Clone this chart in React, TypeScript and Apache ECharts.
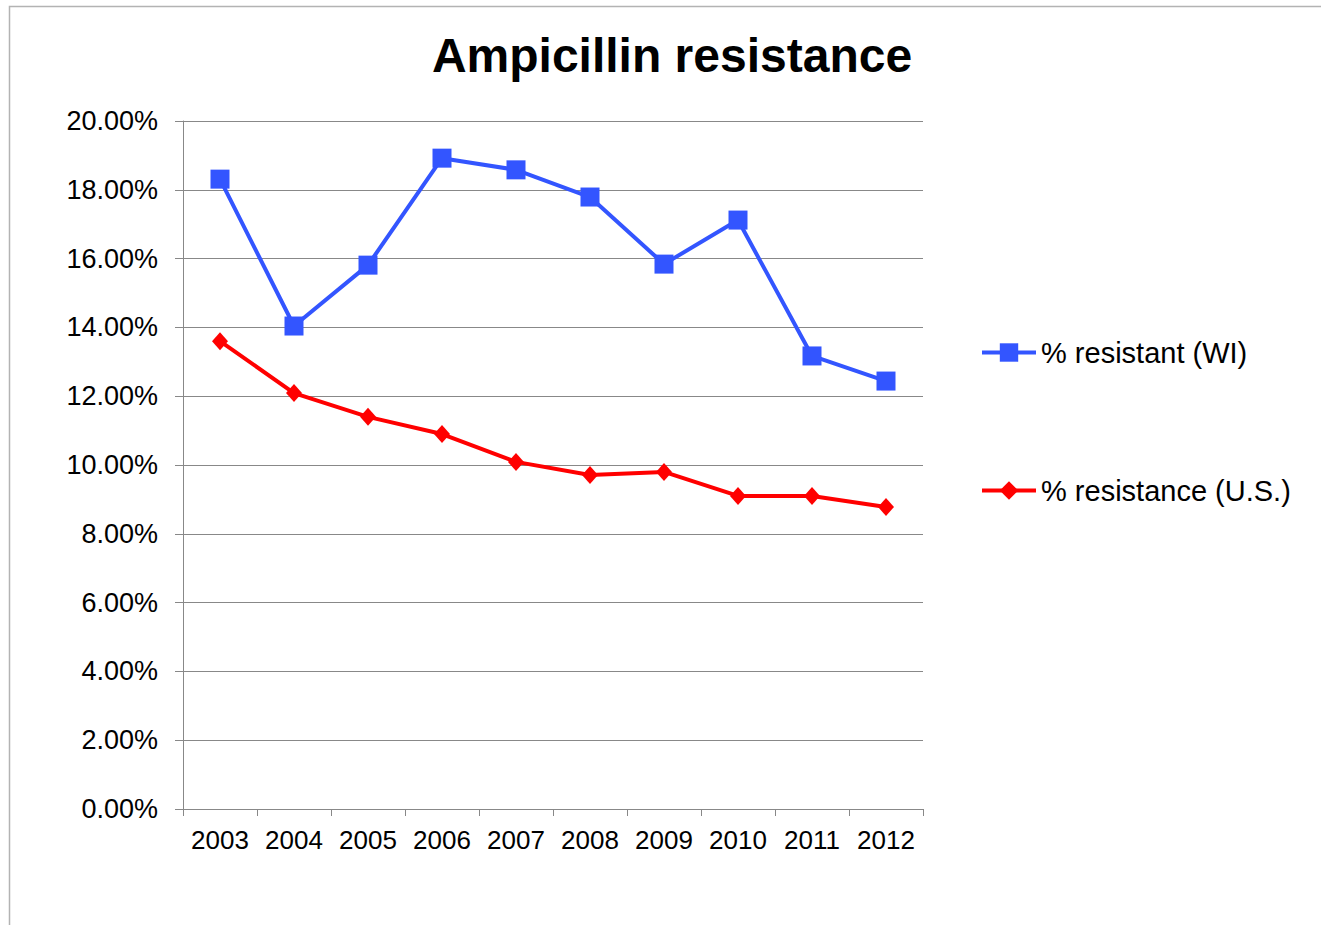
import React, { useEffect, useRef } from "react";
import * as echarts from "echarts";

const years = ["2003", "2004", "2005", "2006", "2007", "2008", "2009", "2010", "2011", "2012"];
const wiResistant = [18.31, 14.04, 15.81, 18.92, 18.58, 17.79, 15.84, 17.12, 13.17, 12.44];
const usResistance = [13.6, 12.09, 11.4, 10.9, 10.09, 9.71, 9.8, 9.1, 9.1, 8.78];
const seriesNames = ["% resistant (WI)", "% resistance (U.S.)"];
const titleText = "Ampicillin resistance";

export default function App() {
  const ref = useRef<HTMLDivElement>(null);
  useEffect(() => {
    if (!ref.current) return;
    const chart = echarts.init(ref.current, null, { renderer: "svg" });
    const font = "Liberation Sans, Arial, sans-serif";
    chart.setOption({
      animation: false,
      backgroundColor: "#fff",
      textStyle: { fontFamily: font },
      title: {
        text: titleText,
        left: 667,
        top: 26,
        textAlign: "center",
        textStyle: { fontSize: 48, fontWeight: "bold", color: "#000", fontFamily: font },
      },
      graphic: [
        {
          type: "rect",
          shape: { x: 9.5, y: 6.5, width: 1400, height: 1000 },
          style: { fill: "none", stroke: "#b3b3b3", lineWidth: 1.5 },
          silent: true,
        },
      ],
      grid: { left: 183, right: 398, top: 121, bottom: 116, containLabel: false },
      legend: {
        orient: "vertical",
        left: 975,
        top: 333,
        itemWidth: 54,
        itemHeight: 23,
        itemGap: 109,
        lineStyle: { width: 4 },
        textStyle: { fontSize: 29, color: "#000", fontFamily: font },
        data: seriesNames,
      },
      xAxis: {
        type: "category",
        data: years,
        boundaryGap: true,
        axisLine: { lineStyle: { color: "#888", width: 1 } },
        axisTick: { show: true, length: 7, lineStyle: { color: "#888" } },
        axisLabel: { fontSize: 26, color: "#000", margin: 18, interval: 0, fontFamily: font },
        splitLine: { show: false },
      },
      yAxis: {
        type: "value",
        min: 0,
        max: 20,
        interval: 2,
        axisLine: { show: true, lineStyle: { color: "#888", width: 1 } },
        axisTick: { show: true, length: 8, lineStyle: { color: "#888" } },
        axisLabel: {
          fontSize: 27,
          color: "#000",
          margin: 25,
          fontFamily: font,
          formatter: (v: number) => v.toFixed(2) + "%",
        },
        splitLine: { show: true, lineStyle: { color: "#888", width: 1 } },
      },
      series: [
        {
          name: seriesNames[0],
          type: "line",
          data: wiResistant,
          symbol: "rect",
          symbolSize: 19,
          lineStyle: { color: "#3355ff", width: 4 },
          itemStyle: { color: "#3355ff" },
          z: 3,
        },
        {
          name: seriesNames[1],
          type: "line",
          data: usResistance,
          symbol: "diamond",
          symbolSize: [16, 18],
          lineStyle: { color: "#ff0000", width: 4 },
          itemStyle: { color: "#ff0000" },
          z: 2,
        },
      ],
    });
    return () => chart.dispose();
  }, []);
  return (
    <div
      ref={ref}
      style={{ position: "fixed", left: 0, top: 0, width: 1321, height: 925 }}
    />
  );
}
